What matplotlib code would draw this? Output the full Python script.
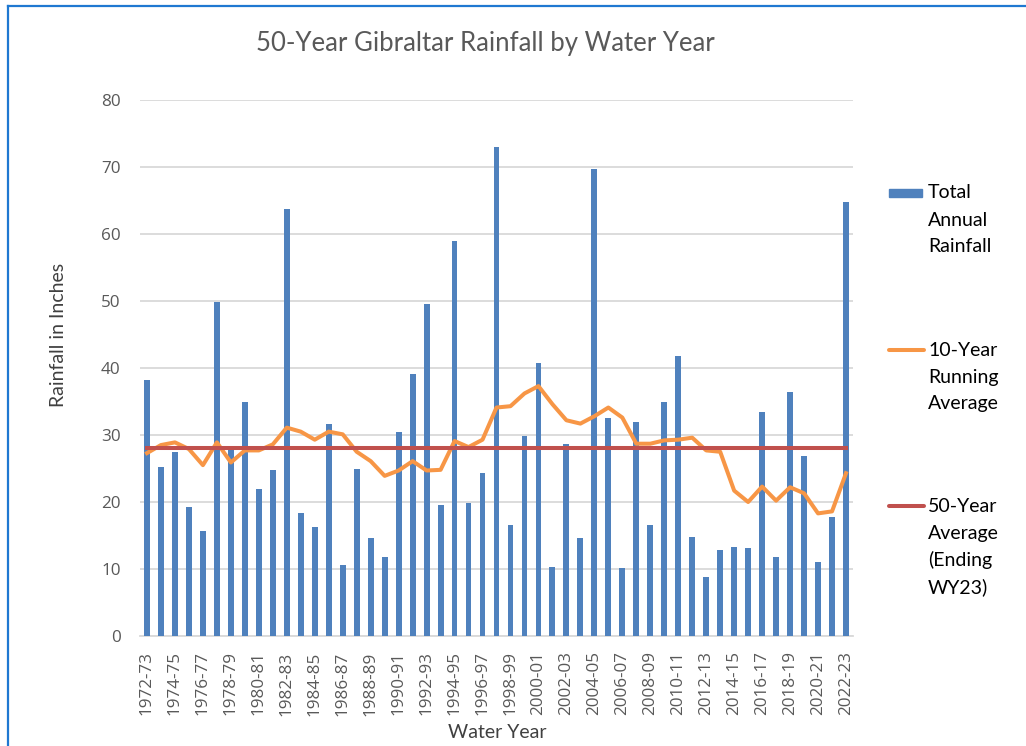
import matplotlib
matplotlib.use("Agg")
import matplotlib.pyplot as plt
from matplotlib.lines import Line2D
from matplotlib.patches import Rectangle
import numpy as np

water_years = [f"{y}-{str(y + 1)[-2:]}" for y in range(1972, 2023)]

total_rainfall = [
    38.2, 25.2, 27.5, 19.3, 15.6, 49.9, 27.7, 35.0, 21.9, 24.8,
    63.7, 18.3, 16.2, 31.6, 10.6, 24.9, 14.6, 11.8, 30.5, 39.1,
    49.5, 19.6, 58.9, 19.8, 24.4, 73.0, 16.6, 29.9, 40.8, 10.3,
    28.7, 14.6, 69.7, 32.5, 10.1, 31.9, 16.6, 34.9, 41.8, 14.8,
    8.8, 12.9, 13.3, 13.2, 33.4, 11.8, 36.4, 26.8, 11.1, 17.7,
    64.8,
]

running_avg_10yr = [
    27.3, 28.5, 28.9, 27.9, 25.5, 28.9, 25.9, 27.7, 27.7, 28.6,
    31.1, 30.5, 29.3, 30.5, 30.1, 27.5, 26.1, 23.9, 24.7, 26.1,
    24.7, 24.8, 29.1, 28.2, 29.3, 34.1, 34.3, 36.2, 37.3, 34.6,
    32.2, 31.7, 32.8, 34.1, 32.6, 28.7, 28.7, 29.2, 29.3, 29.6,
    27.7, 27.5, 21.7, 20.0, 22.3, 20.2, 22.2, 21.3, 18.3, 18.6,
    24.3,
]

avg_50yr_value = 28.0
avg_50yr = [avg_50yr_value] * len(water_years)

y_ticks = [0, 10, 20, 30, 40, 50, 60, 70, 80]

BLUE = "#4F81BD"
ORANGE = "#F79646"
RED = "#C0504D"
GRID = "#D9D9D9"
TICK_C = "#595959"

W, H = 1026, 746
fig = plt.figure(figsize=(W / 100, H / 100), dpi=100)
fig.patch.set_facecolor("white")

def fx(px):
    return px / W

def fy(py):
    return 1 - py / H

ax = fig.add_axes([fx(140), fy(636), fx(853) - fx(140), fy(100) - fy(636)])

x = np.arange(len(water_years))
ax.bar(x, total_rainfall, width=0.42, color=BLUE, zorder=2)
ax.plot(x, running_avg_10yr, color=ORANGE, lw=2.9, solid_joinstyle="round", zorder=3)
ax.plot(x, avg_50yr, color=RED, lw=2.9, zorder=4)

ax.set_xlim(-0.5, len(water_years) - 0.5)
ax.set_ylim(0, 80)
ax.set_yticks(y_ticks)
ax.yaxis.grid(True, color=GRID, lw=1.3, zorder=0)
ax.set_axisbelow(True)
for s in ["top", "right", "left"]:
    ax.spines[s].set_visible(False)
ax.spines["bottom"].set_color(GRID)
ax.spines["bottom"].set_linewidth(1.3)
ax.spines["bottom"].set_zorder(1)

ax.set_xticks(x[::2])
ax.set_xticklabels(water_years[::2], rotation=90, family="Open Sans",
                   fontsize=12.3, color=TICK_C)
ax.tick_params(axis="x", length=0, pad=11)
ax.tick_params(axis="y", length=0, pad=14, labelsize=12.3, labelcolor=TICK_C)
for lab in ax.get_yticklabels():
    lab.set_family("Open Sans")

fig.text(fx(485), fy(43), "50-Year Gibraltar Rainfall by Water Year",
         family="Lato", fontsize=18.5, color=TICK_C, ha="center", va="center")
fig.text(fx(497), fy(733), "Water Year", family="Lato", fontsize=14,
         color="#404040", ha="center", va="center")
fig.text(fx(58), fy(335), "Rainfall in Inches", family="Lato", fontsize=14,
         color="#404040", ha="center", va="center", rotation=90)

# Legend (manual)
legend_entries = [
    ("patch", BLUE, ["Total", "Annual", "Rainfall"], 193),
    ("line", ORANGE, ["10-Year", "Running", "Average"], 350),
    ("line", RED, ["50-Year", "Average", "(Ending", "WY23)"], 506),
]
for kind, col, lines, ytop in legend_entries:
    if kind == "patch":
        fig.add_artist(Rectangle((fx(889), fy(ytop + 4)), fx(922) - fx(889),
                                 fy(ytop - 4) - fy(ytop + 4),
                                 color=col, transform=fig.transFigure))
    else:
        fig.add_artist(Line2D([fx(889), fx(924)], [fy(ytop), fy(ytop)],
                              color=col, lw=2.9, solid_capstyle="round",
                              transform=fig.transFigure))
    for k, t in enumerate(lines):
        fig.text(fx(928), fy(ytop + 27 * k), t, family="Lato", fontsize=14,
                 color="#000000", ha="left", va="center")

# Chart border (top and left visible)
fig.add_artist(Line2D([fx(8), 1], [fy(6), fy(6)], color="#1F78D1", lw=1.6,
                      transform=fig.transFigure))
fig.add_artist(Line2D([fx(8), fx(8)], [fy(6), 0], color="#1F78D1", lw=1.6,
                      transform=fig.transFigure))

fig.savefig("out.png", dpi=100)
